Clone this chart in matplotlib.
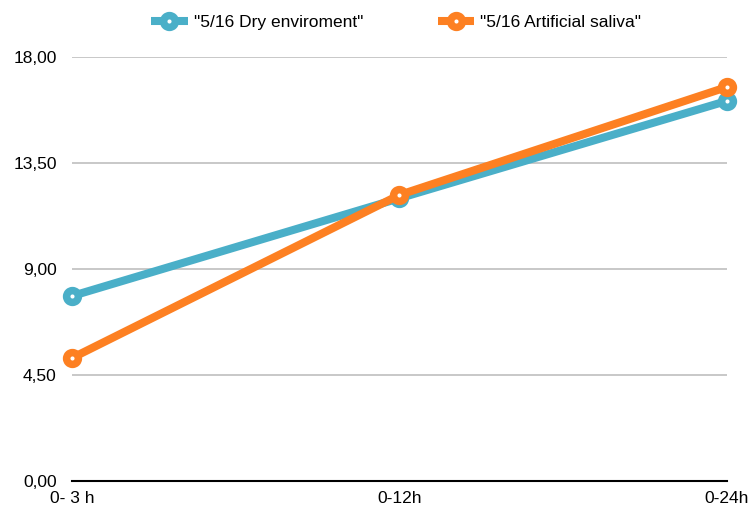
import matplotlib
matplotlib.use("Agg")
import matplotlib.pyplot as plt
from matplotlib.lines import Line2D

plt.rcParams['font.family'] = ['Liberation Sans', 'DejaVu Sans']

periods = ["0- 3 h", "0-12h", "0-24h"]
dry = [7.85, 12.0, 16.13]
saliva = [5.22, 12.14, 16.72]
yticks = [0, 4.5, 9, 13.5, 18]

blue = "#4aafc8"
orange = "#fd8022"

fig = plt.figure(figsize=(7.52, 5.08), dpi=100)
ax = fig.add_axes([0.0957, 0.0531, 0.871, 0.835])

x = range(len(periods))
style = dict(lw=5.8, marker='o', ms=8.5, mew=5.4, mfc='white', solid_capstyle='butt')
ax.plot(x, dry, color=blue, mec=blue, zorder=3, clip_on=False, **style)
ax.plot(x, saliva, color=orange, mec=orange, zorder=4, clip_on=False, **style)

ax.set_xlim(0, len(periods) - 1)
ax.set_ylim(0, 18)
ax.set_yticks(yticks)
ax.set_yticklabels([f"{v:.2f}".replace('.', ',') for v in yticks])
ax.set_xticks(list(x))
ax.set_xticklabels(periods)
ax.tick_params(axis='both', length=0, labelsize=12.5)
ax.tick_params(axis='y', pad=11)
ax.tick_params(axis='x', pad=7)

for v in yticks[1:]:
    ax.axhline(v, color='#c4c4c4', lw=1.3, zorder=1)

for s in ['top', 'right', 'left']:
    ax.spines[s].set_visible(False)
ax.spines['bottom'].set_color('black')
ax.spines['bottom'].set_linewidth(1.5)
ax.spines['bottom'].set_zorder(2)

handles = [
    Line2D([], [], color=blue, mec=blue, **style),
    Line2D([], [], color=orange, mec=orange, **style),
]
fig.legend(handles, ['"5/16 Dry enviroment"', '"5/16 Artificial saliva"'],
           loc='center', bbox_to_anchor=(0.527, 0.955), ncol=2, frameon=False,
           fontsize=12.5, handlelength=2.1, handletextpad=0.35, columnspacing=4.3)

fig.savefig("out.png", dpi=100)
